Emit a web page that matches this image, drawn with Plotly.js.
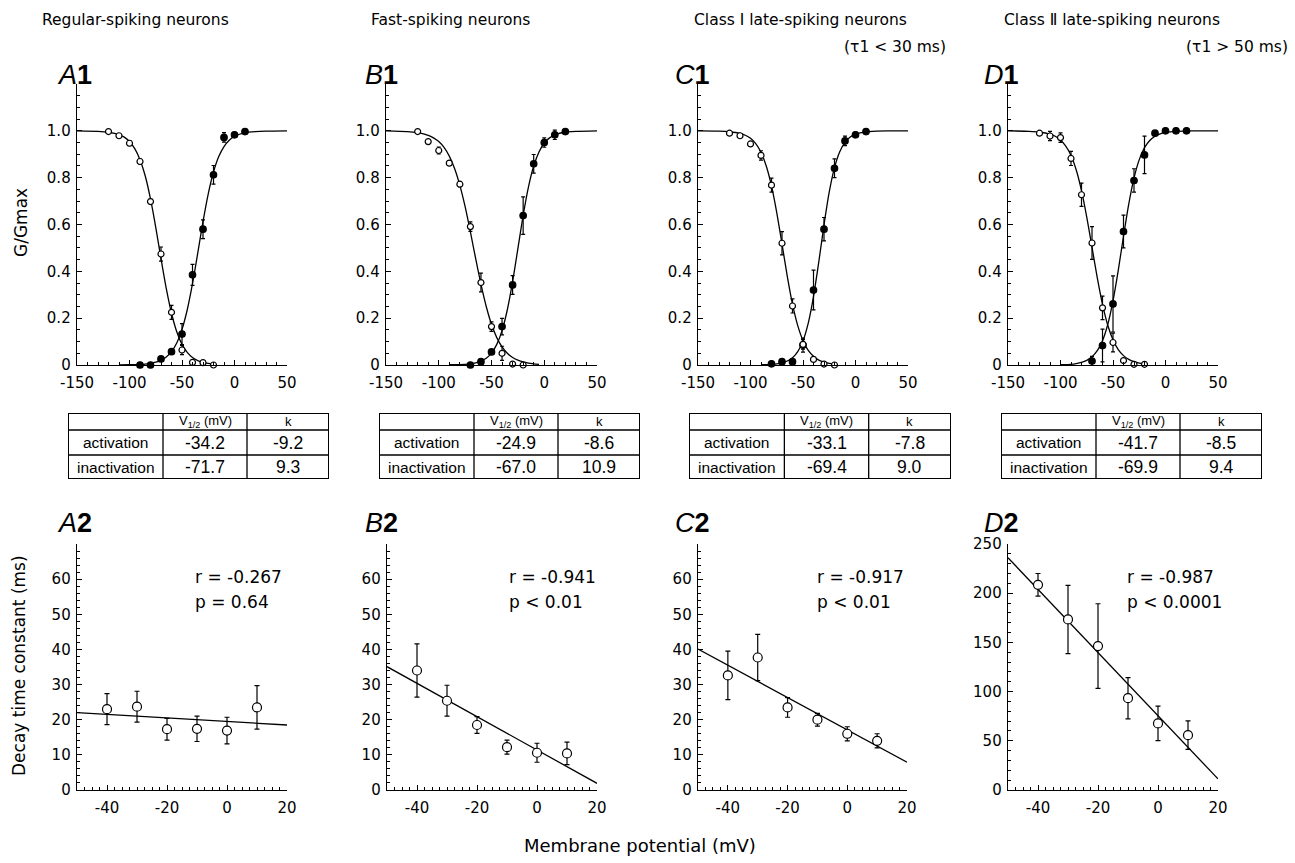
<!DOCTYPE html>
<html>
<head>
<meta charset="utf-8">
<script src="https://cdn.plot.ly/plotly-3.0.1.min.js"></script>
<style>html,body{margin:0;padding:0;background:#fff}#chart{width:1295px;height:863px}</style>
</head>
<body>
<div id="chart"></div>
<script>
// ---------------- DATA ----------------
const columnTitles = ["Regular-spiking neurons", "Fast-spiking neurons", "Class Ⅰ late-spiking neurons", "Class Ⅱ late-spiking neurons"];
const columnSubtitles = ["", "", "(τ1 < 30 ms)", "(τ1 > 50 ms)"];
const topLabels = ["A", "B", "C", "D"];

// Top-row tick labels
const gTickVals = [0, 0.2, 0.4, 0.6, 0.8, 1.0];
const gTickText = ["0", "0.2", "0.4", "0.6", "0.8", "1.0"];
const vTickVals = [-150, -100, -50, 0, 50];
const vTickText = ["-150", "-100", "-50", "0", "50"];
// Bottom-row tick labels
const tauTickVals = [0, 10, 20, 30, 40, 50, 60];
const tauTickValsD = [0, 50, 100, 150, 200, 250];
const mvTickVals = [-40, -20, 0, 20];
const mvTickText = ["-40", "-20", "0", "20"];

// A1 – regular-spiking
const A1_actV = [-90, -80, -70, -60, -50, -40, -30, -20, -10, 0, 10];
const A1_act = [0.0, 0.0, 0.026, 0.057, 0.132, 0.385, 0.58, 0.812, 0.972, 0.983, 0.997];
const A1_actErr = [0, 0, 0.01, 0.01, 0.045, 0.045, 0.04, 0.04, 0.02, 0.01, 0.005];
const A1_inV = [-120, -110, -100, -90, -80, -70, -60, -50, -40, -30, -20];
const A1_in = [0.997, 0.979, 0.947, 0.869, 0.698, 0.474, 0.225, 0.064, 0.011, 0.01, 0.0];
const A1_inErr = [0, 0.005, 0.01, 0.01, 0.01, 0.03, 0.03, 0.02, 0.005, 0, 0];
const A1_actCurveV = [-110, -100, -90, -85, -80, -75, -70, -65, -60, -55, -50, -45, -40, -35, -30, -25, -20, -15, -10, -5, 0, 10, 20, 30, 50];
const A1_actCurve = [0.000, 0.001, 0.002, 0.004, 0.007, 0.012, 0.020, 0.034, 0.057, 0.094, 0.152, 0.236, 0.347, 0.478, 0.612, 0.731, 0.824, 0.890, 0.933, 0.960, 0.976, 0.992, 0.997, 0.999, 1.000];
const A1_inCurveV = [-150, -130, -120, -110, -105, -100, -95, -90, -85, -80, -75, -70, -65, -60, -55, -50, -45, -40, -35, -30, -25, -20];
const A1_inCurve = [1.000, 0.998, 0.994, 0.984, 0.973, 0.954, 0.924, 0.877, 0.807, 0.709, 0.588, 0.454, 0.327, 0.221, 0.142, 0.088, 0.054, 0.032, 0.019, 0.011, 0.007, 0.004];

// B1 – fast-spiking
const B1_actV = [-70, -60, -50, -40, -30, -20, -10, 0, 10, 20];
const B1_act = [0.0, 0.014, 0.056, 0.164, 0.342, 0.638, 0.859, 0.95, 0.983, 0.997];
const B1_actErr = [0, 0.005, 0.01, 0.035, 0.04, 0.08, 0.04, 0.02, 0.02, 0];
const B1_inV = [-120, -110, -100, -90, -80, -70, -60, -50, -40, -30, -20];
const B1_in = [0.997, 0.954, 0.916, 0.862, 0.772, 0.591, 0.352, 0.164, 0.05, 0.004, 0.0];
const B1_inErr = [0, 0.005, 0.015, 0.01, 0.01, 0.02, 0.04, 0.02, 0.03, 0, 0];
const B1_actCurveV = [-90, -80, -75, -70, -65, -60, -55, -50, -45, -40, -35, -30, -25, -20, -15, -10, -5, 0, 5, 10, 20, 30, 50];
const B1_actCurve = [0.001, 0.002, 0.003, 0.005, 0.009, 0.017, 0.029, 0.051, 0.088, 0.147, 0.236, 0.356, 0.497, 0.639, 0.760, 0.850, 0.910, 0.948, 0.970, 0.983, 0.995, 0.998, 1.000];
const B1_inCurveV = [-150, -130, -120, -110, -105, -100, -95, -90, -85, -80, -75, -70, -65, -60, -55, -50, -45, -40, -35, -30, -25, -20, -15, -10, -5];
const B1_inCurve = [1.000, 0.997, 0.992, 0.981, 0.970, 0.954, 0.929, 0.892, 0.839, 0.767, 0.676, 0.568, 0.454, 0.345, 0.250, 0.174, 0.117, 0.077, 0.050, 0.032, 0.021, 0.013, 0.008, 0.005, 0.003];

// C1 – class I late-spiking
const C1_actV = [-80, -70, -60, -50, -40, -30, -20, -10, 0, 10];
const C1_act = [0.005, 0.014, 0.014, 0.085, 0.32, 0.58, 0.84, 0.957, 0.983, 0.997];
const C1_actErr = [0, 0.005, 0.005, 0.03, 0.085, 0.05, 0.04, 0.02, 0.01, 0];
const C1_inV = [-120, -110, -100, -90, -80, -70, -60, -50, -40, -30, -20];
const C1_in = [0.99, 0.979, 0.944, 0.895, 0.768, 0.52, 0.252, 0.088, 0.024, 0.004, 0.0];
const C1_inErr = [0, 0.005, 0.01, 0.02, 0.03, 0.05, 0.03, 0.02, 0.005, 0, 0];
const C1_actCurveV = [-90, -80, -75, -70, -65, -60, -55, -50, -45, -40, -35, -30, -25, -20, -15, -10, -5, 0, 10, 20, 30, 50];
const C1_actCurve = [0.001, 0.002, 0.005, 0.009, 0.017, 0.031, 0.057, 0.103, 0.179, 0.292, 0.439, 0.598, 0.739, 0.843, 0.911, 0.951, 0.974, 0.986, 0.996, 0.999, 1.000, 1.000];
const C1_inCurveV = [-150, -130, -120, -110, -105, -100, -95, -90, -85, -80, -75, -70, -65, -60, -55, -50, -45, -40, -35, -30, -25, -20];
const C1_inCurve = [1.000, 0.999, 0.996, 0.989, 0.981, 0.968, 0.945, 0.908, 0.850, 0.765, 0.651, 0.517, 0.380, 0.260, 0.168, 0.104, 0.062, 0.037, 0.021, 0.012, 0.007, 0.004];

// D1 – class II late-spiking
const D1_actV = [-70, -60, -50, -40, -30, -20, -10, 0, 10, 20];
const D1_act = [0.017, 0.083, 0.261, 0.57, 0.788, 0.897, 0.99, 1.0, 1.0, 1.0];
const D1_actErr = [0.02, 0.07, 0.12, 0.07, 0.05, 0.08, 0, 0, 0, 0];
const D1_inV = [-120, -110, -100, -90, -80, -70, -60, -50, -40, -30, -20];
const D1_in = [0.99, 0.978, 0.971, 0.882, 0.727, 0.521, 0.244, 0.096, 0.019, 0.003, 0.003];
const D1_inErr = [0, 0.02, 0.02, 0.03, 0.05, 0.07, 0.05, 0.04, 0, 0, 0];
const D1_actCurveV = [-100, -90, -85, -80, -75, -70, -65, -60, -55, -50, -45, -40, -35, -30, -25, -20, -15, -10, -5, 0, 10, 20, 30, 50];
const D1_actCurve = [0.001, 0.003, 0.006, 0.011, 0.020, 0.035, 0.061, 0.104, 0.173, 0.274, 0.404, 0.550, 0.687, 0.798, 0.877, 0.928, 0.959, 0.977, 0.987, 0.993, 0.998, 0.999, 1.000, 1.000];
const D1_inCurveV = [-150, -130, -120, -110, -105, -100, -95, -90, -85, -80, -75, -70, -65, -60, -55, -50, -45, -40, -35, -30, -25, -20];
const D1_inCurve = [1.000, 0.998, 0.995, 0.986, 0.977, 0.961, 0.935, 0.895, 0.833, 0.745, 0.632, 0.503, 0.373, 0.259, 0.170, 0.108, 0.066, 0.040, 0.024, 0.014, 0.008, 0.005];

// Tables (V1/2 and k)
const tableRowNames = ["activation", "inactivation"];
const tableHeader = ["V<sub>1/2</sub> (mV)", "k"];
const A_half = ["-34.2", "-71.7"]; const A_k = ["-9.2", "9.3"];
const B_half = ["-24.9", "-67.0"]; const B_k = ["-8.6", "10.9"];
const C_half = ["-33.1", "-69.4"]; const C_k = ["-7.8", "9.0"];
const D_half = ["-41.7", "-69.9"]; const D_k = ["-8.5", "9.4"];

// Bottom row: decay time constants
const decayV = [-40, -30, -20, -10, 0, 10];
const A2_tau = [23.0, 23.7, 17.3, 17.4, 16.9, 23.5];
const A2_err = [4.4, 4.4, 3.1, 3.6, 3.8, 6.2];
const B2_tau = [34.0, 25.4, 18.5, 12.2, 10.6, 10.4];
const B2_err = [7.6, 4.4, 2.4, 2.0, 2.7, 3.2];
const C2_tau = [32.6, 37.7, 23.5, 20.0, 16.0, 14.0];
const C2_err = [6.9, 6.6, 2.8, 1.8, 2.0, 2.0];
const D2_tau = [208.5, 173.3, 146.3, 93.3, 67.7, 55.7];
const D2_err = [11.5, 34.7, 43.0, 21.0, 17.5, 14.5];
const fitV = [-50, 20];
const A2_fit = [22.0, 18.5];
const B2_fit = [35.1, 1.9];
const C2_fit = [40.1, 7.9];
const D2_fit = [236.0, 11.3];
const statR = ["r = -0.267", "r = -0.941", "r = -0.917", "r = -0.987"];
const statP = ["p = 0.64", "p < 0.01", "p < 0.01", "p < 0.0001"];

// ---------------- LAYOUT HELPERS ----------------
const W = 1295, H = 863;
const px = x => x / W;
const py = y => 1 - y / H;
const FONT = "DejaVu Sans, Liberation Sans, Arial, sans-serif";
const HFONT = "Liberation Sans, Arial, Helvetica, sans-serif";

const colX = [[77, 287], [386, 597], [698, 908], [1008, 1218]];
const colX2 = [[77, 287], [387, 597], [698, 907], [1008, 1218]];
const topY = [365, 84];
const botY = [790, 544];
// table geometry (layout only): column edges and row edges in table-axis units
const tblX = [[68, 329], [379, 640], [689, 951], [1001, 1262]];
const tblY = [479, 413];
const tColEdges = [0, 95, 179, 261];
const tRowEdges = [0, 17, 42, 66];

function curve(xa, ya, V, G) {
  return {type: 'scatter', mode: 'lines', x: V, y: G, xaxis: xa, yaxis: ya,
    line: {color: 'black', width: 1.3, shape: 'spline', smoothing: 0.6}, hoverinfo: 'skip', cliponaxis: false};
}
function pts(xa, ya, V, G, err, filled, size, cap) {
  return {type: 'scatter', mode: 'markers', x: V, y: G, xaxis: xa, yaxis: ya, cliponaxis: false,
    marker: {symbol: 'circle', size: size, color: filled ? 'black' : 'white', line: {color: 'black', width: 1.2}},
    error_y: {type: 'data', array: err, visible: true, color: 'black', thickness: 1.2, width: cap}};
}

const traces = [];
const topData = [
  [A1_actCurveV, A1_actCurve, A1_inCurveV, A1_inCurve, A1_actV, A1_act, A1_actErr, A1_inV, A1_in, A1_inErr],
  [B1_actCurveV, B1_actCurve, B1_inCurveV, B1_inCurve, B1_actV, B1_act, B1_actErr, B1_inV, B1_in, B1_inErr],
  [C1_actCurveV, C1_actCurve, C1_inCurveV, C1_inCurve, C1_actV, C1_act, C1_actErr, C1_inV, C1_in, C1_inErr],
  [D1_actCurveV, D1_actCurve, D1_inCurveV, D1_inCurve, D1_actV, D1_act, D1_actErr, D1_inV, D1_in, D1_inErr]
];
topData.forEach((d, i) => {
  const xa = i === 0 ? 'x' : 'x' + (i + 1);
  const ya = i === 0 ? 'y' : 'y' + (i + 1);
  traces.push(curve(xa, ya, d[0], d[1]));
  traces.push(curve(xa, ya, d[2], d[3]));
  traces.push(pts(xa, ya, d[4], d[5], d[6], true, 6.5, 2));
  traces.push(pts(xa, ya, d[7], d[8], d[9], false, 6, 2));
});
const botData = [[A2_tau, A2_err, A2_fit], [B2_tau, B2_err, B2_fit], [C2_tau, C2_err, C2_fit], [D2_tau, D2_err, D2_fit]];
botData.forEach((d, i) => {
  const xa = 'x' + (i + 5), ya = 'y' + (i + 5);
  traces.push(curve(xa, ya, fitV, d[2]));
  traces.push(pts(xa, ya, decayV, d[0], d[1], false, 9, 2.5));
});

// ---------------- LAYOUT ----------------
const layout = {
  width: W, height: H, margin: {l: 0, r: 0, t: 0, b: 0},
  paper_bgcolor: 'white', plot_bgcolor: 'white', showlegend: false,
  font: {family: FONT, color: 'black'},
  annotations: [], shapes: []
};
function axBase() {
  return {showgrid: false, zeroline: false, showline: true, linecolor: 'black', linewidth: 1.3,
    ticks: 'inside', ticklen: 5, tickwidth: 1, tickcolor: 'black', tickmode: 'array',
    tickfont: {family: FONT, size: 15, color: 'black'}, fixedrange: true};
}
for (let i = 0; i < 4; i++) {
  const n = i === 0 ? '' : String(i + 1);
  layout['xaxis' + n] = Object.assign(axBase(), {domain: [px(colX[i][0]), px(colX[i][1])], range: [-150, 50],
    anchor: 'y' + n, tickvals: vTickVals, ticktext: vTickText, ticklabelstandoff: 4,
    minor: {tickmode: 'linear', tick0: -150, dtick: 10, ticks: 'inside', ticklen: 3, tickcolor: 'black', tickwidth: 1}});
  layout['yaxis' + n] = Object.assign(axBase(), {domain: [py(topY[0]), py(topY[1])], range: [0, 1.2],
    anchor: 'x' + n, tickvals: gTickVals, ticktext: gTickText, ticklabelstandoff: 2,
    minor: {tickmode: 'linear', tick0: 0, dtick: 0.05, ticks: 'inside', ticklen: 3, tickcolor: 'black', tickwidth: 1}});

  const m = String(i + 5);
  const isD = i === 3;
  layout['xaxis' + m] = Object.assign(axBase(), {domain: [px(colX2[i][0]), px(colX2[i][1])], range: [-50, 20],
    anchor: 'y' + m, tickvals: mvTickVals, ticktext: mvTickText, ticklabelstandoff: 4,
    minor: {tickmode: 'linear', tick0: -50, dtick: 2.5, ticks: 'inside', ticklen: 3, tickcolor: 'black', tickwidth: 1}});
  layout['yaxis' + m] = Object.assign(axBase(), {domain: [py(botY[0]), py(botY[1])], range: isD ? [0, 250] : [0, 70],
    anchor: 'x' + m, tickvals: isD ? tauTickValsD : tauTickVals, ticklabelstandoff: 2,
    minor: {tickmode: 'linear', tick0: 0, dtick: isD ? 10 : 2, ticks: 'inside', ticklen: 3, tickcolor: 'black', tickwidth: 1}});
}

// ---------------- TABLES (hidden axes x9..x12) ----------------
const tblVals = [[A_half, A_k], [B_half, B_k], [C_half, C_k], [D_half, D_k]];
const ann = layout.annotations;
const shp = layout.shapes;
tblVals.forEach((v, i) => {
  const k = String(i + 9);
  const xr = 'x' + k, yr = 'y' + k;
  layout['xaxis' + k] = {domain: [px(tblX[i][0]), px(tblX[i][1])], range: [tColEdges[0], tColEdges[3]], visible: false, anchor: yr, fixedrange: true};
  layout['yaxis' + k] = {domain: [py(tblY[0]), py(tblY[1])], range: [tRowEdges[3], tRowEdges[0]], visible: false, anchor: xr, fixedrange: true};
  traces.push({type: 'scatter', mode: 'markers', x: [], y: [], xaxis: xr, yaxis: yr, hoverinfo: 'skip'});
  // outer border
  shp.push({type: 'rect', xref: xr, yref: yr, x0: tColEdges[0], x1: tColEdges[3], y0: tRowEdges[0], y1: tRowEdges[3],
    line: {color: 'black', width: 2}, layer: 'above'});
  // inner lines
  [1, 2].forEach(r => shp.push({type: 'line', xref: xr, yref: yr, x0: tColEdges[0], x1: tColEdges[3], y0: tRowEdges[r], y1: tRowEdges[r],
    line: {color: 'black', width: 1.3}}));
  [1, 2].forEach(c => shp.push({type: 'line', xref: xr, yref: yr, x0: tColEdges[c], x1: tColEdges[c], y0: tRowEdges[0], y1: tRowEdges[3],
    line: {color: 'black', width: 1.3}}));
  const cx = c => (tColEdges[c] + tColEdges[c + 1]) / 2;
  const cy = r => (tRowEdges[r] + tRowEdges[r + 1]) / 2;
  tableHeader.forEach((h, c) => ann.push({text: h, x: cx(c + 1), y: cy(0), xref: xr, yref: yr, showarrow: false,
    xanchor: 'center', yanchor: 'middle', font: {family: HFONT, size: 13, color: 'black'}}));
  tableRowNames.forEach((name, r) => {
    ann.push({text: name, x: cx(0), y: cy(r + 1), xref: xr, yref: yr, showarrow: false,
      xanchor: 'center', yanchor: 'middle', font: {family: HFONT, size: 15.5, color: 'black'}});
    ann.push({text: v[0][r], x: cx(1), y: cy(r + 1), xref: xr, yref: yr, showarrow: false,
      xanchor: 'center', yanchor: 'middle', font: {family: HFONT, size: 17.5, color: 'black'}});
    ann.push({text: v[1][r], x: cx(2), y: cy(r + 1), xref: xr, yref: yr, showarrow: false,
      xanchor: 'center', yanchor: 'middle', font: {family: HFONT, size: 17.5, color: 'black'}});
  });
});

// ---------------- TEXT ----------------
const titleX = [135, 450, 800, 1112];
columnTitles.forEach((t, i) => ann.push({text: t, x: px(titleX[i]), y: py(20), xref: 'paper', yref: 'paper',
  xanchor: 'center', yanchor: 'middle', showarrow: false, font: {family: FONT, size: 15.5, color: 'black'}}));
const subX = [0, 0, 948, 1290];
columnSubtitles.forEach((t, i) => { if (t) ann.push({text: t, x: px(subX[i]), y: py(47), xref: 'paper', yref: 'paper',
  xanchor: 'right', yanchor: 'middle', showarrow: false, font: {family: FONT, size: 15.5, color: 'black'}}); });
const labX = [55, 363, 673, 982];
topLabels.forEach((l, i) => {
  ann.push({text: '<i>' + l + '</i><b>1</b>', x: px(labX[i]), y: py(75), xref: 'paper', yref: 'paper',
    xanchor: 'left', yanchor: 'middle', showarrow: false, font: {family: HFONT, size: 27, color: 'black'}});
  ann.push({text: '<i>' + l + '</i><b>2</b>', x: px(labX[i]), y: py(523), xref: 'paper', yref: 'paper',
    xanchor: 'left', yanchor: 'middle', showarrow: false, font: {family: HFONT, size: 27, color: 'black'}});
});
const statX = [193, 507, 815, 1125];
statR.forEach((t, i) => {
  ann.push({text: t, x: px(statX[i]), y: py(577), xref: 'paper', yref: 'paper', xanchor: 'left', yanchor: 'middle',
    showarrow: false, font: {family: FONT, size: 17, color: 'black'}});
  ann.push({text: statP[i], x: px(statX[i]), y: py(602), xref: 'paper', yref: 'paper', xanchor: 'left', yanchor: 'middle',
    showarrow: false, font: {family: FONT, size: 17, color: 'black'}});
});
ann.push({text: 'G/Gmax', x: px(21), y: py(223), xref: 'paper', yref: 'paper', textangle: -90,
  xanchor: 'center', yanchor: 'middle', showarrow: false, font: {family: FONT, size: 17, color: 'black'}});
ann.push({text: 'Decay time constant (ms)', x: px(19), y: py(666), xref: 'paper', yref: 'paper', textangle: -90,
  xanchor: 'center', yanchor: 'middle', showarrow: false, font: {family: FONT, size: 17, color: 'black'}});
ann.push({text: 'Membrane potential (mV)', x: px(640), y: py(845), xref: 'paper', yref: 'paper',
  xanchor: 'center', yanchor: 'middle', showarrow: false, font: {family: FONT, size: 18, color: 'black'}});

Plotly.newPlot('chart', traces, layout, {staticPlot: true, displayModeBar: false});
</script>
</body>
</html>
